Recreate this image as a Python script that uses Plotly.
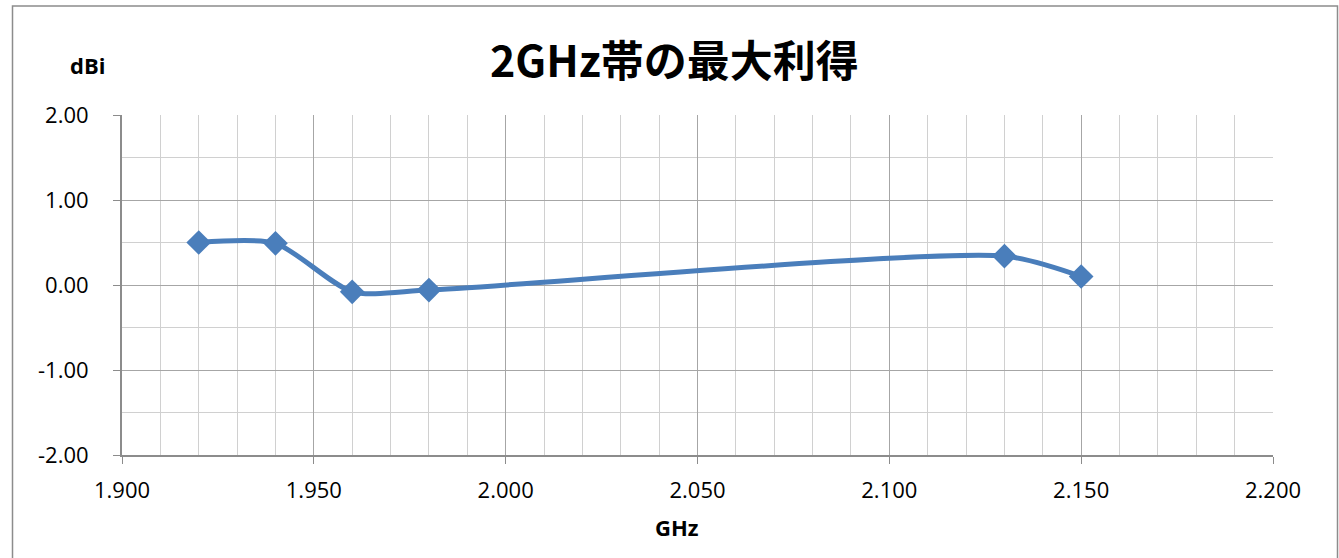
import plotly.graph_objects as go

freq_ghz = [1.92, 1.94, 1.96, 1.98, 2.13, 2.15]
gain_dbi = [0.50, 0.49, -0.08, -0.06, 0.34, 0.10]

x_tick_vals = [1.90, 1.95, 2.00, 2.05, 2.10, 2.15, 2.20]
x_tick_text = ["1.900", "1.950", "2.000", "2.050", "2.100", "2.150", "2.200"]
y_tick_vals = [-2, -1, 0, 1, 2]
y_tick_text = ["-2.00", "-1.00", "0.00", "1.00", "2.00"]

title_text = "2GHz帯の最大利得"
y_title = "dBi"
x_title = "GHz"

W, H = 1339, 558
L, R, T, B = 122, 1273, 115, 455

def px_to_paper_x(px):
    return (px - L) / (R - L)

def px_to_paper_y(py):
    return (B - py) / (B - T)

fig = go.Figure()
fig.add_trace(go.Scatter(
    x=freq_ghz, y=gain_dbi,
    mode="lines+markers",
    line=dict(color="#4a7ebb", width=5, shape="spline", smoothing=0.7),
    marker=dict(symbol="diamond", size=19, color="#4a7ebb"),
    showlegend=False,
    cliponaxis=False,
))

tick_font = dict(family="Open Sans, Noto Sans, sans-serif", size=22, color="#000000")

fig.update_layout(
    width=W, height=H,
    margin=dict(l=L, r=W - R, t=T, b=H - B),
    paper_bgcolor="white", plot_bgcolor="white",
    xaxis=dict(
        range=[1.9, 2.2], tickmode="array", tickvals=x_tick_vals, ticktext=x_tick_text,
        showgrid=True, gridcolor="#a6a6a6", gridwidth=1,
        minor=dict(dtick=0.01, tick0=1.9, showgrid=True, gridcolor="#d0d0d0", gridwidth=1),
        ticks="outside", ticklen=7, tickcolor="#8c8c8c",
        showline=True, linecolor="#8c8c8c", linewidth=2, mirror=False,
        zeroline=False, tickfont=tick_font, ticklabelstandoff=8,
    ),
    yaxis=dict(
        range=[-2, 2], tickmode="array", tickvals=y_tick_vals, ticktext=y_tick_text,
        showgrid=True, gridcolor="#a6a6a6", gridwidth=1,
        minor=dict(dtick=0.5, tick0=-2, showgrid=True, gridcolor="#d0d0d0", gridwidth=1),
        ticks="outside", ticklen=7, tickcolor="#8c8c8c",
        showline=True, linecolor="#8c8c8c", linewidth=2, mirror=False,
        zeroline=False, tickfont=tick_font, ticklabelstandoff=20,
    ),
    annotations=[
        dict(text="<b>" + title_text + "</b>", x=px_to_paper_x(674), y=px_to_paper_y(58),
             xref="paper", yref="paper", showarrow=False, xanchor="center", yanchor="middle",
             font=dict(family="Noto Sans CJK JP", size=43, color="#000000")),
        dict(text="<b>" + y_title + "</b>", x=px_to_paper_x(87), y=px_to_paper_y(65),
             xref="paper", yref="paper", showarrow=False, xanchor="center", yanchor="middle",
             font=dict(family="Open Sans, Noto Sans, sans-serif", size=22, color="#000000")),
        dict(text="<b>" + x_title + "</b>", x=px_to_paper_x(677), y=px_to_paper_y(527),
             xref="paper", yref="paper", showarrow=False, xanchor="center", yanchor="middle",
             font=dict(family="Open Sans, Noto Sans, sans-serif", size=22, color="#000000")),
    ],
    shapes=[
        dict(type="rect", xref="paper", yref="paper",
             x0=px_to_paper_x(12.5), x1=px_to_paper_x(1337.5), y0=px_to_paper_y(575), y1=px_to_paper_y(6),
             line=dict(color="#8c8c8c", width=1.5), fillcolor="rgba(0,0,0,0)", layer="below"),
    ],
)

fig.write_html(
    "out.html",
    config={"displayModeBar": False},
    post_script="document.body.style.margin='0';document.body.style.overflow='hidden';",
)
